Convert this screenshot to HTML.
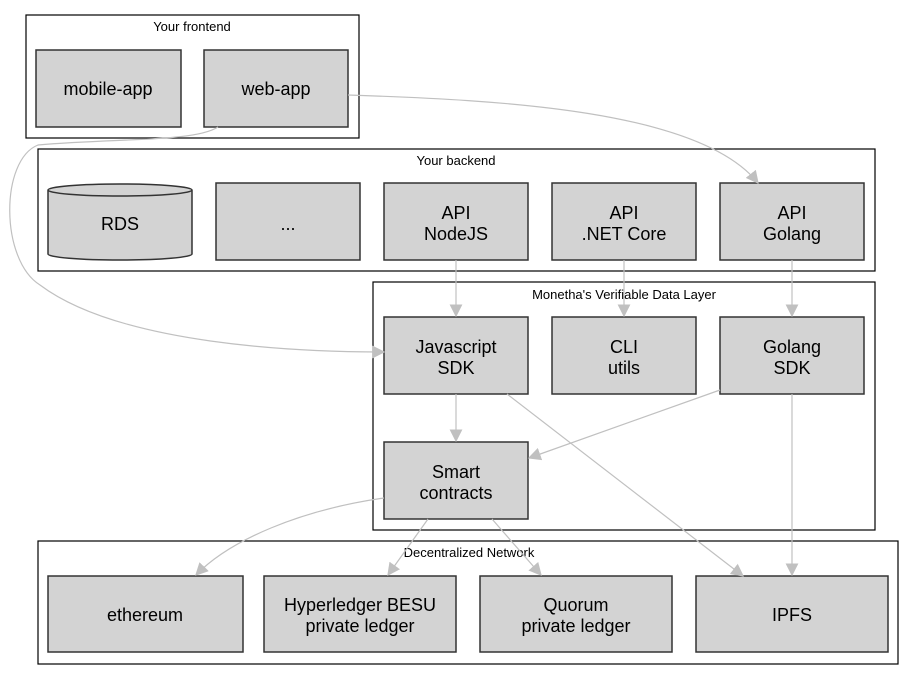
<!DOCTYPE html>
<html><head><meta charset="utf-8"><style>
html,body{margin:0;padding:0;background:#fff}
svg{display:block}
text{font-family:"Liberation Sans",Arial,sans-serif;fill:#000}
.n{fill:#d3d3d3;stroke:#333;stroke-width:1.5}
.c{fill:none;stroke:#000;stroke-width:1.2}
.e{fill:none;stroke:#c0c0c0;stroke-width:1.2}
.t{font-size:13px;text-anchor:middle}
.l{font-size:18px;text-anchor:middle}
</style></head><body>
<svg width="915" height="680" viewBox="0 0 915 680" xmlns="http://www.w3.org/2000/svg">
<defs><marker id="a" viewBox="0 0 10 10" refX="9" refY="5" markerWidth="13" markerHeight="13" markerUnits="userSpaceOnUse" orient="auto"><path d="M0,0 L10,5 L0,10 z" fill="#c0c0c0"/></marker></defs>
<rect class="c" x="26" y="15" width="333" height="123"/>
<text class="t" x="192" y="31">Your frontend</text>
<rect class="c" x="38" y="149" width="837" height="122"/>
<text class="t" x="456" y="165">Your backend</text>
<rect class="c" x="373" y="282" width="502" height="248"/>
<text class="t" x="624" y="299">Monetha's Verifiable Data Layer</text>
<rect class="c" x="38" y="541" width="860" height="123"/>
<text class="t" x="469" y="557">Decentralized Network</text>

<rect class="n" x="36" y="50" width="145" height="77"/><text class="l" x="108" y="95">mobile-app</text>
<rect class="n" x="204" y="50" width="144" height="77"/><text class="l" x="276" y="95">web-app</text>

<path class="n" d="M48,190 L48,254 A72,6 0 0 0 192,254 L192,190 A72,6 0 0 0 48,190 A72,6 0 0 0 192,190"/>
<text class="l" x="120" y="230">RDS</text>
<rect class="n" x="216" y="183" width="144" height="77"/><text class="l" x="288" y="230">...</text>
<rect class="n" x="384" y="183" width="144" height="77"/><text class="l" x="456" y="219">API</text><text class="l" x="456" y="240">NodeJS</text>
<rect class="n" x="552" y="183" width="144" height="77"/><text class="l" x="624" y="219">API</text><text class="l" x="624" y="240">.NET Core</text>
<rect class="n" x="720" y="183" width="144" height="77"/><text class="l" x="792" y="219">API</text><text class="l" x="792" y="240">Golang</text>

<rect class="n" x="384" y="317" width="144" height="77"/><text class="l" x="456" y="353">Javascript</text><text class="l" x="456" y="374">SDK</text>
<rect class="n" x="552" y="317" width="144" height="77"/><text class="l" x="624" y="353">CLI</text><text class="l" x="624" y="374">utils</text>
<rect class="n" x="720" y="317" width="144" height="77"/><text class="l" x="792" y="353">Golang</text><text class="l" x="792" y="374">SDK</text>
<rect class="n" x="384" y="442" width="144" height="77"/><text class="l" x="456" y="478">Smart</text><text class="l" x="456" y="499">contracts</text>

<rect class="n" x="48" y="576" width="195" height="76"/><text class="l" x="145" y="621">ethereum</text>
<rect class="n" x="264" y="576" width="192" height="76"/><text class="l" x="360" y="611">Hyperledger BESU</text><text class="l" x="360" y="632">private ledger</text>
<rect class="n" x="480" y="576" width="192" height="76"/><text class="l" x="576" y="611">Quorum</text><text class="l" x="576" y="632">private ledger</text>
<rect class="n" x="696" y="576" width="192" height="76"/><text class="l" x="792" y="621">IPFS</text>

<path class="e" marker-end="url(#a)" d="M348,95 C500,100 700,110 758,183"/>
<path class="e" marker-end="url(#a)" d="M218,127 C195,142 120,138 38,145 C0,160 0,260 40,285 C120,345 300,352 384,352"/>
<path class="e" marker-end="url(#a)" d="M456,260 L456,316"/>
<path class="e" marker-end="url(#a)" d="M624,260 L624,316"/>
<path class="e" marker-end="url(#a)" d="M792,260 L792,316"/>
<path class="e" marker-end="url(#a)" d="M456,394 L456,441"/>
<path class="e" marker-end="url(#a)" d="M720,390 L529,458"/>
<path class="e" marker-end="url(#a)" d="M507,394 L743,576"/>
<path class="e" marker-end="url(#a)" d="M792,394 L792,575"/>
<path class="e" marker-end="url(#a)" d="M384,498 C300,510 230,540 196,575"/>
<path class="e" marker-end="url(#a)" d="M428,519 L388,575"/>
<path class="e" marker-end="url(#a)" d="M492,519 L541,575"/>
</svg>
</body></html>
